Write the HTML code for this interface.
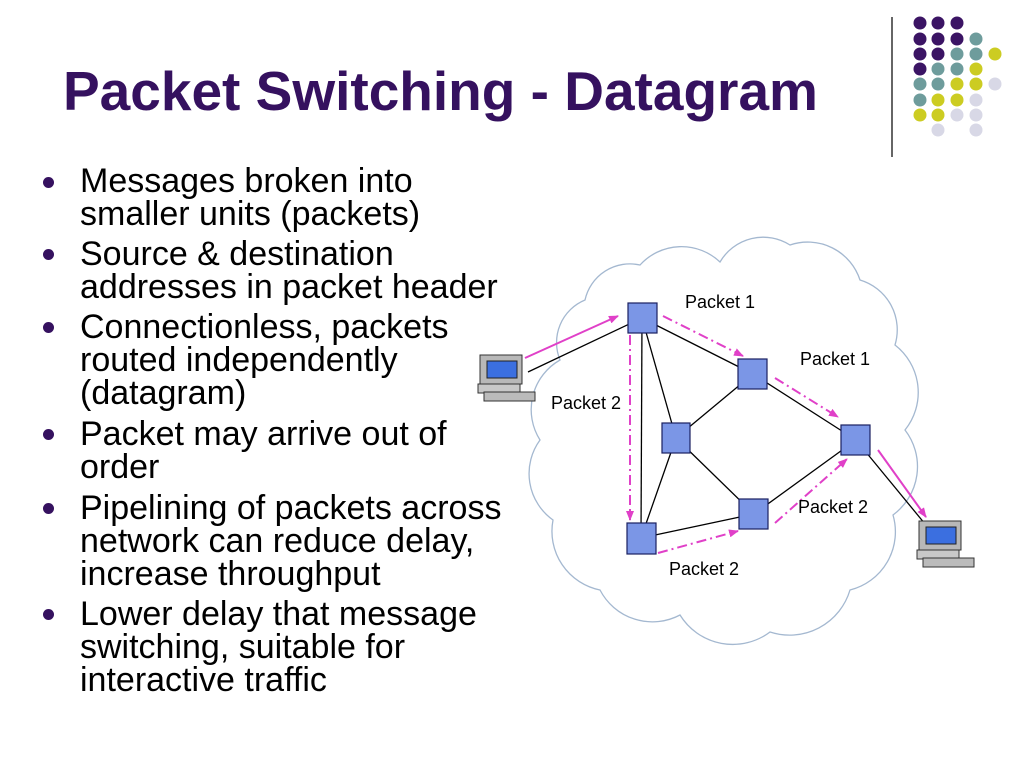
<!DOCTYPE html>
<html><head><meta charset="utf-8"><style>
body{margin:0;width:1024px;height:768px;background:#fff;position:relative;overflow:hidden;font-family:"Liberation Sans",Arial,sans-serif}
.t{position:absolute;left:63px;top:58px;font-size:55px;font-weight:bold;color:#35115f;white-space:nowrap;line-height:66px}
.l{position:absolute;left:80px;font-size:34px;line-height:33px;color:#000;white-space:nowrap}
.b{position:absolute;left:43px;width:11px;height:11px;border-radius:50%;background:#35115f}
.p{position:absolute;font-size:18px;white-space:nowrap;line-height:20px}
</style></head><body>
<div class="t">Packet Switching - Datagram</div>
<svg width="1024" height="768" style="position:absolute;left:0;top:0">
<line x1="892" y1="17" x2="892" y2="157" stroke="#666" stroke-width="2"/>
<g>
<circle cx="920" cy="23" r="6.5" fill="#3b1464"/><circle cx="938" cy="23" r="6.5" fill="#3b1464"/><circle cx="957" cy="23" r="6.5" fill="#3b1464"/>
<circle cx="920" cy="39" r="6.5" fill="#3b1464"/><circle cx="938" cy="39" r="6.5" fill="#3b1464"/><circle cx="957" cy="39" r="6.5" fill="#3b1464"/><circle cx="976" cy="39" r="6.5" fill="#6e9c9c"/>
<circle cx="920" cy="54" r="6.5" fill="#3b1464"/><circle cx="938" cy="54" r="6.5" fill="#3b1464"/><circle cx="957" cy="54" r="6.5" fill="#6e9c9c"/><circle cx="976" cy="54" r="6.5" fill="#6e9c9c"/><circle cx="995" cy="54" r="6.5" fill="#cccc22"/>
<circle cx="920" cy="69" r="6.5" fill="#3b1464"/><circle cx="938" cy="69" r="6.5" fill="#6e9c9c"/><circle cx="957" cy="69" r="6.5" fill="#6e9c9c"/><circle cx="976" cy="69" r="6.5" fill="#cccc22"/>
<circle cx="920" cy="84" r="6.5" fill="#6e9c9c"/><circle cx="938" cy="84" r="6.5" fill="#6e9c9c"/><circle cx="957" cy="84" r="6.5" fill="#cccc22"/><circle cx="976" cy="84" r="6.5" fill="#cccc22"/><circle cx="995" cy="84" r="6.5" fill="#d8d8e6"/>
<circle cx="920" cy="100" r="6.5" fill="#6e9c9c"/><circle cx="938" cy="100" r="6.5" fill="#cccc22"/><circle cx="957" cy="100" r="6.5" fill="#cccc22"/><circle cx="976" cy="100" r="6.5" fill="#d8d8e6"/>
<circle cx="920" cy="115" r="6.5" fill="#cccc22"/><circle cx="938" cy="115" r="6.5" fill="#cccc22"/><circle cx="957" cy="115" r="6.5" fill="#d8d8e6"/><circle cx="976" cy="115" r="6.5" fill="#d8d8e6"/>
<circle cx="938" cy="130" r="6.5" fill="#d8d8e6"/><circle cx="976" cy="130" r="6.5" fill="#d8d8e6"/>
</g>
<path d="M585 300 A46 46 0 0 1 640 265 A56 56 0 0 1 720 262 A50 50 0 0 1 790 245 A55 55 0 0 1 860 280 A52 52 0 0 1 895 345 A60 60 0 0 1 905 430 A60 60 0 0 1 893 515 A60 60 0 0 1 850 590 A63 63 0 0 1 770 632 A62 62 0 0 1 680 615 A59 59 0 0 1 600 590 A60 60 0 0 1 553 520 A57 57 0 0 1 540 440 A57 57 0 0 1 560 360 A46 46 0 0 1 585 300 Z" fill="#fff" stroke="#a4b8d0" stroke-width="1.3"/>
<defs><marker id="ar" markerWidth="10" markerHeight="8" refX="9" refY="4" orient="auto" markerUnits="userSpaceOnUse"><path d="M0 0 L10 4 L0 8 Z" fill="#e040c8"/></marker></defs>
<g stroke="#000" stroke-width="1.3">
<line x1="528" y1="372" x2="642" y2="318"/>
<line x1="642" y1="318" x2="641" y2="538"/>
<line x1="642" y1="318" x2="676" y2="438"/>
<line x1="642" y1="318" x2="753" y2="374"/>
<line x1="753" y1="374" x2="676" y2="438"/>
<line x1="676" y1="438" x2="641" y2="538"/>
<line x1="676" y1="438" x2="754" y2="514"/>
<line x1="641" y1="538" x2="754" y2="514"/>
<line x1="754" y1="514" x2="856" y2="440"/>
<line x1="753" y1="374" x2="856" y2="440"/>
<line x1="856" y1="440" x2="930" y2="530"/>
</g>
<g stroke="#e040c8" stroke-width="2" fill="none" marker-end="url(#ar)">
<line x1="525" y1="358" x2="618" y2="316"/>
<line x1="663" y1="316" x2="743" y2="356" stroke-dasharray="10 4 2 4"/>
<line x1="775" y1="378" x2="838" y2="417" stroke-dasharray="10 4 2 4"/>
<line x1="630" y1="335" x2="630" y2="520" stroke-dasharray="10 4 2 4"/>
<line x1="658" y1="553" x2="738" y2="531" stroke-dasharray="10 4 2 4"/>
<line x1="775" y1="523" x2="847" y2="459" stroke-dasharray="10 4 2 4"/>
<line x1="878" y1="450" x2="926" y2="517"/>
</g>
<g fill="#7b96e6" stroke="#1a2060" stroke-width="1.2">
<rect x="628" y="303" width="29" height="30"/>
<rect x="738" y="359" width="29" height="30"/>
<rect x="662" y="423" width="28" height="30"/>
<rect x="841" y="425" width="29" height="30"/>
<rect x="739" y="499" width="29" height="30"/>
<rect x="627" y="523" width="29" height="31"/>
</g>
<g id="pc">
<rect x="480" y="355" width="42" height="29" fill="#b8b8b8" stroke="#333"/>
<rect x="487" y="361" width="30" height="17" fill="#3b6fe0" stroke="#222"/>
<rect x="478" y="384" width="42" height="9" fill="#c8c8c8" stroke="#333"/>
<rect x="484" y="392" width="51" height="9" fill="#bbb" stroke="#333"/>
</g>
<use href="#pc" transform="translate(439,166)"/>
</svg>
<div class="p" style="left:685px;top:292px">Packet 1</div>
<div class="p" style="left:800px;top:349px">Packet 1</div>
<div class="p" style="left:551px;top:393px">Packet 2</div>
<div class="p" style="left:798px;top:497px">Packet 2</div>
<div class="p" style="left:669px;top:559px">Packet 2</div>

<div class="b" style="top:177px"></div>
<div class="l" style="top:165px">Messages broken into</div>
<div class="l" style="top:198px">smaller units (packets)</div>
<div class="b" style="top:249px"></div>
<div class="l" style="top:238px">Source &amp; destination</div>
<div class="l" style="top:271px">addresses in packet header</div>
<div class="b" style="top:322px"></div>
<div class="l" style="top:311px">Connectionless, packets</div>
<div class="l" style="top:344px">routed independently</div>
<div class="l" style="top:377px">(datagram)</div>
<div class="b" style="top:429px"></div>
<div class="l" style="top:418px">Packet may arrive out of</div>
<div class="l" style="top:451px">order</div>
<div class="b" style="top:503px"></div>
<div class="l" style="top:492px">Pipelining of packets across</div>
<div class="l" style="top:525px">network can reduce delay,</div>
<div class="l" style="top:558px">increase throughput</div>
<div class="b" style="top:609px"></div>
<div class="l" style="top:598px">Lower delay that message</div>
<div class="l" style="top:631px">switching, suitable for</div>
<div class="l" style="top:664px">interactive traffic</div>
</body></html>
